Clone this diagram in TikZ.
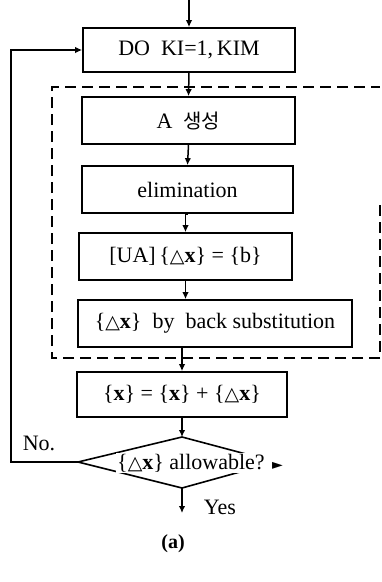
\documentclass[tikz,border=0pt]{standalone}
\usepackage{fontspec}
\setmainfont{Liberation Serif}
\newfontfamily\krfont{Noto Sans CJK KR}
\newfontfamily\dvfont{DejaVu Sans}
\usetikzlibrary{arrows.meta}
\newcommand\tri{{\dvfont\fontsize{19}{19}\selectfont △}}
\newcommand\dlx{\{\tri\textbf{x}\}}
\begin{document}
\begin{tikzpicture}[x=1pt,y=-1pt,
 box/.style={draw,line width=1.7pt,inner sep=0pt,font=\fontsize{22}{24}\selectfont},
 arr/.style={line width=1.5pt,-{Latex[length=7pt,width=6.5pt]}},
 ln/.style={line width=1.6pt},
 dsh/.style={line width=1.6pt,dash pattern=on 11pt off 6pt},
 lbl/.style={font=\fontsize{22}{24}\selectfont,inner sep=0pt}]
\useasboundingbox (0,0) rectangle (382,582);
% dashed group frame
\draw[dsh] (380,205) -- (380,358) -- (52,358) -- (52,87) -- (380,87);
% boxes
\node[box,minimum width=212pt,minimum height=44pt] (do) at (189,50) {DO\ \ KI=1,\,KIM};
\node[box,minimum width=213pt,minimum height=47pt] (gen) at (188.5,120.5) {A\ \ {\krfont\fontsize{20}{22}\selectfont 생성}};
\node[box,minimum width=211pt,minimum height=47pt] (elim) at (187.5,189.5) {elimination};
\node[box,minimum width=213pt,minimum height=47pt] (ua) at (185.5,256.5) {[UA]\,\dlx\ = \{b\}};
\node[box,minimum width=274pt,minimum height=47pt] (back) at (215,323.5) {\dlx\ \ by\ \ back substitution};
\node[box,minimum width=210pt,minimum height=45pt] (upd) at (182,394.5) {\{\textbf{x}\} = \{\textbf{x}\} + \dlx};
% decision
\coordinate (dl) at (78,462);
\coordinate (dt) at (182,437);
\coordinate (dr) at (276,462);
\coordinate (db) at (182,488);
\draw[ln] (dl) -- (dt) -- (dr) -- (db) -- cycle;
\node[lbl,fill=white,inner sep=1pt] (dec) at (200,463) {\dlx\ allowable? {\dvfont\fontsize{14}{14}\selectfont ►}};
% entry and flow arrows
\coordinate (top) at (189,0);
\draw[arr] (top) -- (do.north);
\draw[arr] (do.south) -- (gen.north);
\draw[arr] (gen.south) -- (elim.north);
\draw[arr] (elim.south) -- (ua.south |- elim.south) -- (ua.north);
\draw[arr] (ua.south) -- (ua.south |- back.north);
\draw[arr] (upd.north |- back.south) -- (upd.north);
\draw[arr] (upd.south) -- (dt);
% feedback loop
\coordinate (fl) at (11,462);
\coordinate (fu) at (11,50);
\draw[arr] (dl) -- (fl) -- (fu) -- (do.west);
% exit
\coordinate (ex) at (182,513);
\draw[arr] (db) -- (ex);
% labels
\node[lbl] (no) at (39,443) {No.};
\node[lbl] (yes) at (220,507) {Yes};
\node[lbl,font=\fontsize{20}{22}\selectfont\bfseries] (cap) at (173,544) {(a)};
\end{tikzpicture}
\end{document}
